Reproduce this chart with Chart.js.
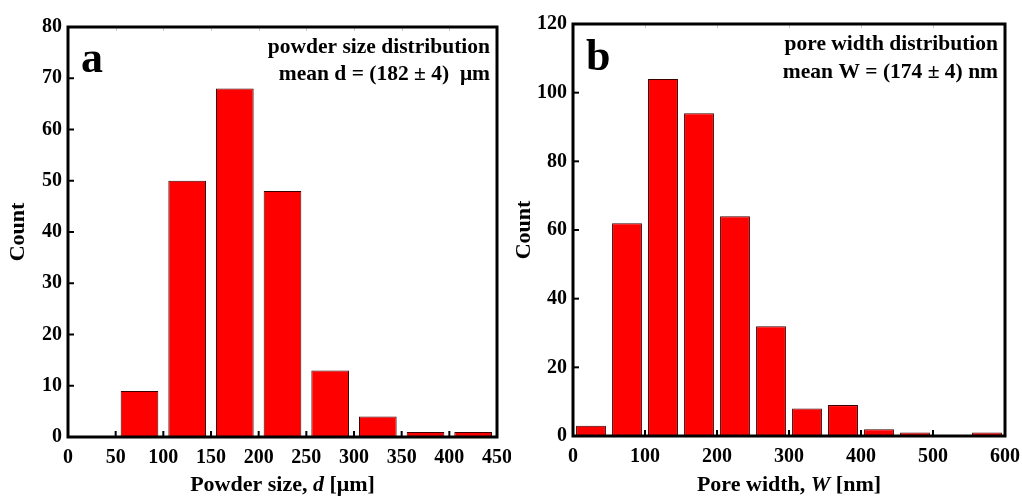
<!DOCTYPE html>
<html>
<head>
<meta charset="utf-8">
<script src="https://cdn.jsdelivr.net/npm/chart.js@4/dist/chart.umd.min.js"></script>
<style>
  html, body { margin: 0; padding: 0; background: #fff; }
  #wrapA { position: absolute; left: 0; top: 0; width: 511px; height: 496px; }
  #wrapB { position: absolute; left: 511px; top: 0; width: 511px; height: 496px; }
</style>
</head>
<body>
<div id="wrapA"><canvas id="chartA" width="511" height="496"></canvas></div>
<div id="wrapB"><canvas id="chartB" width="511" height="496"></canvas></div>
<script>
// Panel a: powder size histogram (bin centres in µm, 50 µm bins)
const powderBins = [25, 75, 125, 175, 225, 275, 325, 375, 425];
const powderCounts = [0, 9, 50, 68, 48, 13, 4, 1, 1];

// Panel b: pore width histogram (bin centres in nm, 50 nm bins)
const poreBins = [25, 75, 125, 175, 225, 275, 325, 375, 425, 475, 525, 575];
const poreCounts = [3, 62, 104, 94, 64, 32, 8, 9, 2, 1, 0, 1];

const FONT = '"Liberation Serif", "Times New Roman", serif';

// Draws the heavy frame, inward tick marks, x-axis title and the
// corner annotations.
const framePlugin = {
    id: 'frame',
    afterDraw(chart) {
        const o = chart.options.plugins.frame;
        const ctx = chart.ctx;
        const a = chart.chartArea;
        const xs = chart.scales.x;
        const ys = chart.scales.y;
        ctx.save();

        // faint ticks along the top edge
        ctx.strokeStyle = '#c8c8c8';
        ctx.lineWidth = 1;
        xs.ticks.forEach(t => {
            const px = Math.round(xs.getPixelForValue(t.value)) + 0.5;
            ctx.beginPath();
            ctx.moveTo(px, a.top);
            ctx.lineTo(px, a.top + 4);
            ctx.stroke();
        });

        // inward ticks on bottom and left
        ctx.strokeStyle = '#000';
        ctx.lineWidth = 2;
        xs.ticks.forEach(t => {
            const px = xs.getPixelForValue(t.value);
            ctx.beginPath();
            ctx.moveTo(px, a.bottom);
            ctx.lineTo(px, a.bottom - 6);
            ctx.stroke();
        });
        ys.ticks.forEach(t => {
            const py = ys.getPixelForValue(t.value);
            ctx.beginPath();
            ctx.moveTo(a.left, py);
            ctx.lineTo(a.left + 6, py);
            ctx.stroke();
        });

        // frame
        ctx.lineWidth = 3;
        ctx.strokeRect(a.left, a.top, a.right - a.left, a.bottom - a.top);

        // x axis title with italic symbol
        ctx.fillStyle = '#000';
        ctx.textBaseline = 'alphabetic';
        const parts = o.xTitle;
        let total = 0;
        parts.forEach(p => {
            ctx.font = p.style + ' bold 22px ' + FONT;
            p.w = ctx.measureText(p.text).width;
            total += p.w;
        });
        let x = (a.left + a.right) / 2 - total / 2;
        ctx.textAlign = 'left';
        parts.forEach(p => {
            ctx.font = p.style + ' bold 22px ' + FONT;
            ctx.fillText(p.text, x, o.xTitleY);
            x += p.w;
        });

        // panel letter
        ctx.font = 'bold 44px ' + FONT;
        ctx.fillText(o.letter, a.left + 13, o.letterY);

        // annotation lines
        ctx.font = 'bold 21.5px ' + FONT;
        ctx.textAlign = 'right';
        ctx.fillText(o.line1, a.right - 7, o.line1Y);
        ctx.fillText(o.line2, a.right - 7, o.line2Y);
        ctx.restore();
    }
};

function makeHistogram(canvasId, bins, counts, cfg) {
    return new Chart(document.getElementById(canvasId), {
        type: 'bar',
        data: {
            datasets: [{
                data: bins.map((b, i) => ({ x: b, y: counts[i] })),
                backgroundColor: '#ff0000',
                borderColor: '#3a0000',
                borderWidth: 1,
                barPercentage: cfg.barPct,
                categoryPercentage: 1.0
            }]
        },
        options: {
            responsive: false,
            animation: false,
            layout: { padding: { left: 0, top: cfg.top, right: cfg.right, bottom: 0 } },
            plugins: {
                legend: { display: false },
                tooltip: { enabled: false },
                frame: cfg.frame
            },
            scales: {
                x: {
                    type: 'linear',
                    offset: false,
                    min: 0,
                    max: cfg.xMax,
                    grid: { display: false, drawTicks: false, offset: false },
                    border: { display: false },
                    ticks: {
                        stepSize: cfg.xStep,
                        padding: 9,
                        color: '#000',
                        maxRotation: 0,
                        font: { family: FONT, size: 20, weight: 'bold' }
                    },
                    afterFit: s => {
                        s.height = cfg.xAxisH;
                        // let the last label hang over the right margin
                        s.paddingLeft = 0;
                        s.paddingRight = 0;
                    }
                },
                y: {
                    min: 0,
                    max: cfg.yMax,
                    grid: { display: false, drawTicks: false },
                    border: { display: false },
                    ticks: {
                        stepSize: cfg.yStep,
                        padding: 6,
                        color: '#000',
                        font: { family: FONT, size: 20, weight: 'bold' }
                    },
                    title: {
                        display: true,
                        text: 'Count',
                        color: '#000',
                        padding: { top: cfg.yTitlePad, bottom: 0 },
                        font: { family: FONT, size: 22, weight: 'bold' }
                    },
                    afterFit: s => {
                        s.width = cfg.yAxisW;
                        s.paddingTop = 0;
                        s.paddingBottom = 0;
                    }
                }
            }
        },
        plugins: [framePlugin]
    });
}

makeHistogram('chartA', powderBins, powderCounts, {
    top: 27, right: 14, xAxisH: 59, yAxisW: 68, yTitlePad: 5,
    xMax: 450, xStep: 50, yMax: 80, yStep: 10, barPct: 0.79,
    frame: {
        xTitle: [
            { text: 'Powder size, ', style: 'normal' },
            { text: 'd', style: 'italic' },
            { text: ' [\u03bcm]', style: 'normal' }
        ],
        xTitleY: 491,
        letter: 'a', letterY: 72,
        line1: 'powder size distribution', line1Y: 53,
        line2: 'mean d = (182 \u00b1 4)  \u03bcm', line2Y: 80
    }
});

makeHistogram('chartB', poreBins, poreCounts, {
    top: 24, right: 17, xAxisH: 60, yAxisW: 62, yTitlePad: 0,
    xMax: 600, xStep: 100, yMax: 120, yStep: 20, barPct: 0.83,
    frame: {
        xTitle: [
            { text: 'Pore width, ', style: 'normal' },
            { text: 'W', style: 'italic' },
            { text: ' [nm]', style: 'normal' }
        ],
        xTitleY: 491,
        letter: 'b', letterY: 70,
        line1: 'pore width distribution', line1Y: 50,
        line2: 'mean W = (174 \u00b1 4) nm', line2Y: 78
    }
});
</script>
</body>
</html>
